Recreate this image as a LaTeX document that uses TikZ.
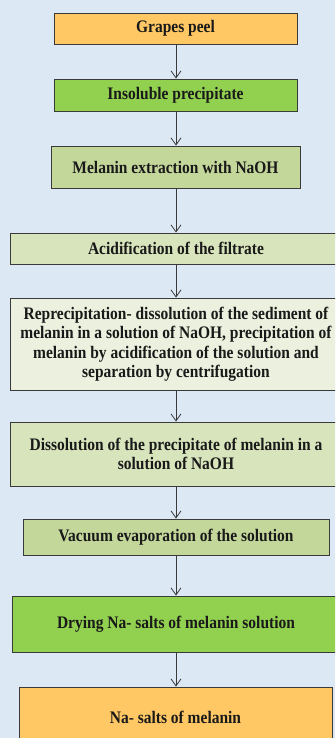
\documentclass[tikz,border=0pt]{standalone}
\usepackage{fontspec}
\setmainfont{Liberation Serif}
\newfontfamily\tnrbold{Liberation Serif Bold}[FakeStretch=0.88]
\usetikzlibrary{arrows.meta}
\definecolor{bgblue}{HTML}{DDE8F5}
\definecolor{orangebox}{HTML}{FFC865}
\definecolor{greenbox}{HTML}{92D050}
\definecolor{olivebox}{HTML}{C4D79B}
\definecolor{paleolive}{HTML}{D8E4BC}
\definecolor{palest}{HTML}{EBF1DE}
\definecolor{edge}{HTML}{3A3A3A}
\tikzset{
  stepbox/.style={draw=edge, line width=0.9pt, rectangle, inner sep=0pt, align=center,
    font=\tnrbold\fontsize{17.6}{19.5}\selectfont, text=black!90},
  flow/.style={draw=edge, line width=0.8pt, -{Straight Barb[length=7pt,width=10pt]}}
}
\begin{document}
\begin{tikzpicture}[x=1pt,y=-1pt]
\fill[bgblue] (0,0) rectangle (335,738);
\useasboundingbox (0,0) rectangle (335,738);
\begin{scope}
\clip (0,0) rectangle (335,738);
\node[stepbox, fill=orangebox, minimum width=243pt, minimum height=31pt] (b1) at (175.5,28.5) {Grapes peel};
\node[stepbox, fill=greenbox, minimum width=243pt, minimum height=32pt] (b2) at (175.5,95) {Insoluble precipitate};
\node[stepbox, fill=olivebox, minimum width=249pt, minimum height=42pt] (b3) at (175.5,167) {Melanin extraction with NaOH};
\node[stepbox, fill=paleolive, minimum width=332pt, minimum height=31pt] (b4) at (176,248.5) {Acidification of the filtrate};
\node[stepbox, fill=palest, minimum width=332pt, minimum height=92pt] (b5) at (176,344) {Reprecipitation- dissolution of the sediment of\\melanin in a solution of NaOH, precipitation of\\melanin by acidification of the solution and\\separation by centrifugation};
\node[stepbox, fill=paleolive, minimum width=332pt, minimum height=64pt] (b6) at (176,454) {Dissolution of the precipitate of melanin in a\\solution of NaOH};
\node[stepbox, fill=olivebox, minimum width=306pt, minimum height=36pt] (b7) at (176,537) {Vacuum evaporation of the solution};
\node[stepbox, fill=greenbox, minimum width=328pt, minimum height=56pt] (b8) at (176,624) {Drying Na- salts of melanin solution};
\node[stepbox, fill=orangebox, minimum width=313pt, minimum height=60pt] (b9) at (175.5,717) {Na- salts of melanin};
\end{scope}
\draw[flow] (b1.south -| 176,0) -- (b2.north -| 176,0);
\draw[flow] (b2.south -| 176,0) -- (b3.north -| 176,0);
\draw[flow] (b3.south -| 176,0) -- (b4.north -| 176,0);
\draw[flow] (b4.south -| 176,0) -- (b5.north -| 176,0);
\draw[flow] (b5.south -| 176,0) -- (b6.north -| 176,0);
\draw[flow] (b6.south -| 176,0) -- (b7.north -| 176,0);
\draw[flow] (b7.south -| 176,0) -- (b8.north -| 176,0);
\draw[flow] (b8.south -| 176,0) -- (b9.north -| 176,0);
\end{tikzpicture}
\end{document}
